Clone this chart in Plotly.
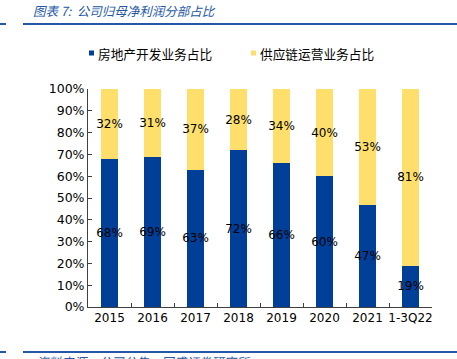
import plotly.graph_objects as go

categories = ["2015", "2016", "2017", "2018", "2019", "2020", "2021", "1-3Q22"]
real_estate = [68, 69, 63, 72, 66, 60, 47, 19]
supply_chain = [32, 31, 37, 28, 34, 40, 53, 81]
y_ticks = [0, 10, 20, 30, 40, 50, 60, 70, 80, 90, 100]
series_names = ["房地产开发业务占比", "供应链运营业务占比"]

W, H = 457, 359
L, R, T, B = 88, 25, 89, 52
PW, PH = W - L - R, H - T - B

def px(x):
    return (x - L) / PW

def py(y):
    return (H - B - y) / PH

BLUE = "#003F98"
YELLOW = "#FFDF6B"
HEAD = "#2457A6"
FONT = "DejaVu Sans"
CJK = "Noto Sans CJK SC"

fig = go.Figure()
for name, vals, col in [(series_names[0], real_estate, BLUE), (series_names[1], supply_chain, YELLOW)]:
    fig.add_trace(go.Bar(
        x=categories, y=vals, name=name,
        marker=dict(color=col, line=dict(width=0)),
        text=[f"{v}%" for v in vals], textposition="inside",
        insidetextanchor="middle", textangle=0,
        textfont=dict(color="black", size=12, family=FONT),
        showlegend=False,
    ))

fig.update_layout(
    width=W, height=H,
    margin=dict(l=L, r=R, t=T, b=B, autoexpand=False),
    barmode="stack", bargap=0.6,
    plot_bgcolor="white", paper_bgcolor="white",
    uniformtext=dict(minsize=8, mode="show"),
    font=dict(family=FONT, size=12, color="black"),
    xaxis=dict(showline=True, linecolor="#404040", linewidth=1, ticks="inside",
               ticklen=4, tickcolor="#404040", tickson="boundaries", tickangle=0,
               tickfont=dict(family=FONT, size=12), showgrid=False),
    yaxis=dict(range=[0, 100], tickvals=y_ticks, ticktext=[f"{v}%" for v in y_ticks],
               showline=True, linecolor="#404040", linewidth=1, ticks="inside",
               ticklen=4, tickcolor="#404040", showgrid=False, zeroline=False,
               tickfont=dict(family=FONT, size=12.5)),
)

# Legend (manual, small square markers as in the reference)
for sx, name, col in [(89, series_names[0], BLUE), (251, series_names[1], YELLOW)]:
    fig.add_shape(type="rect", xref="paper", yref="paper",
                  x0=px(sx), x1=px(sx + 5), y0=py(55.5), y1=py(50.5),
                  fillcolor=col, line=dict(width=0))
    fig.add_annotation(text=name, xref="paper", yref="paper",
                       x=px(sx + 7), y=py(53), xanchor="left", yanchor="middle",
                       showarrow=False, font=dict(family=CJK, size=12.7, color="black"))

# Header / footer decorations
fig.add_annotation(text="<i>图表 7:  公司归母净利润分部占比</i>", xref="paper", yref="paper",
                   x=px(31), y=py(11), xanchor="left", yanchor="middle", showarrow=False,
                   font=dict(family=CJK, size=12.5, color=HEAD))
for yy in (24, 352):
    fig.add_shape(type="line", xref="paper", yref="paper", x0=px(23), x1=px(457),
                  y0=py(yy), y1=py(yy), line=dict(color=HEAD, width=2))
    fig.add_shape(type="line", xref="paper", yref="paper", x0=px(0), x1=px(6),
                  y0=py(yy), y1=py(yy), line=dict(color=HEAD, width=2))
fig.add_annotation(text="<i>资料来源：公司公告，国盛证券研究所</i>", xref="paper", yref="paper",
                   x=px(34), y=py(350), xanchor="left", yanchor="top", showarrow=False,
                   font=dict(family=CJK, size=12.5, color=HEAD))

fig.write_html("out.html", config={"displayModeBar": False},
               post_script="document.body.style.margin='0';")
